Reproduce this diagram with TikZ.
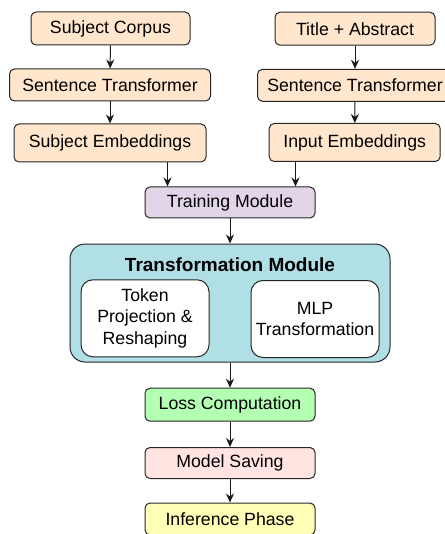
\documentclass[tikz,border=0pt]{standalone}
\usepackage{fontspec}
\setmainfont{Liberation Sans}
\usetikzlibrary{arrows.meta}
\definecolor{peach}{HTML}{FFE6CC}
\definecolor{lavender}{HTML}{E1D5E7}
\definecolor{powder}{HTML}{B0E0E6}
\definecolor{lossgreen}{HTML}{B3FFB3}
\definecolor{savepink}{HTML}{FFE4E1}
\definecolor{inferyellow}{HTML}{FFFFB8}
\begin{document}
\begin{tikzpicture}[x=1pt,y=-1pt,
    box/.style={draw=black!85,line width=1pt,rounded corners=5pt,inner sep=0pt,align=center,
        font=\fontsize{17.7}{21.7}\selectfont},
    arr/.style={-{Stealth[length=9pt,width=8pt]},black!90,line width=1pt}]
\useasboundingbox (0,0) rectangle (444,534);
% left column
\node[box,fill=peach,minimum width=159pt,minimum height=33pt] (corpus) at (110.5,28.5) {Subject Corpus};
\node[box,fill=peach,minimum width=201pt,minimum height=32pt] (stl) at (110,85) {Sentence Transformer};
\node[box,fill=peach,minimum width=192pt,minimum height=38pt] (subemb) at (110,143) {Subject Embeddings};
% right column
\node[box,fill=peach,minimum width=160pt,minimum height=33pt] (title) at (355,28.7) {Title + Abstract};
\node[box,fill=peach,minimum width=195pt,minimum height=32pt] (str) at (355,85.3) {Sentence Transformer};
\node[box,fill=peach,minimum width=171pt,minimum height=38pt] (inemb) at (354.7,142.5) {Input Embeddings};
% middle
\node[box,fill=lavender,minimum width=170pt,minimum height=31pt] (train) at (230,202.5) {Training Module};
\node[box,fill=powder,rounded corners=15pt,minimum width=320pt,minimum height=118pt] (transf) at (230,303) {};
\node[font=\fontsize{19}{22}\selectfont\bfseries] (transftitle) at (230,264.5) {Transformation Module};
\node[box,fill=white,rounded corners=12pt,minimum width=128pt,minimum height=77pt] (token) at (145,318.3) {Token\\Projection \&\\Reshaping};
\node[box,fill=white,rounded corners=12pt,minimum width=128pt,minimum height=77pt] (mlp) at (315,319) {MLP\\Transformation};
\node[box,fill=lossgreen,minimum width=170pt,minimum height=33pt] (loss) at (230,404.7) {Loss Computation};
\node[box,fill=savepink,minimum width=170pt,minimum height=31pt] (save) at (230,463) {Model Saving};
\node[box,fill=inferyellow,minimum width=170pt,minimum height=32pt] (infer) at (230,519) {Inference Phase};

\draw[arr] (corpus) -- (stl);
\draw[arr] (stl) -- (subemb);
\draw[arr] (title) -- (str);
\draw[arr] (str) -- (inemb);
\draw[arr] ([xshift=23pt]train.north west |- subemb.south) -- ([xshift=23pt]train.north west);
\draw[arr] ([xshift=-20pt]train.north east |- inemb.south) -- ([xshift=-20pt]train.north east);
\draw[arr] (train) -- (transf);
\draw[arr] (transf) -- (loss);
\draw[arr] (loss) -- (save);
\draw[arr] (save) -- (infer);
\end{tikzpicture}
\end{document}
